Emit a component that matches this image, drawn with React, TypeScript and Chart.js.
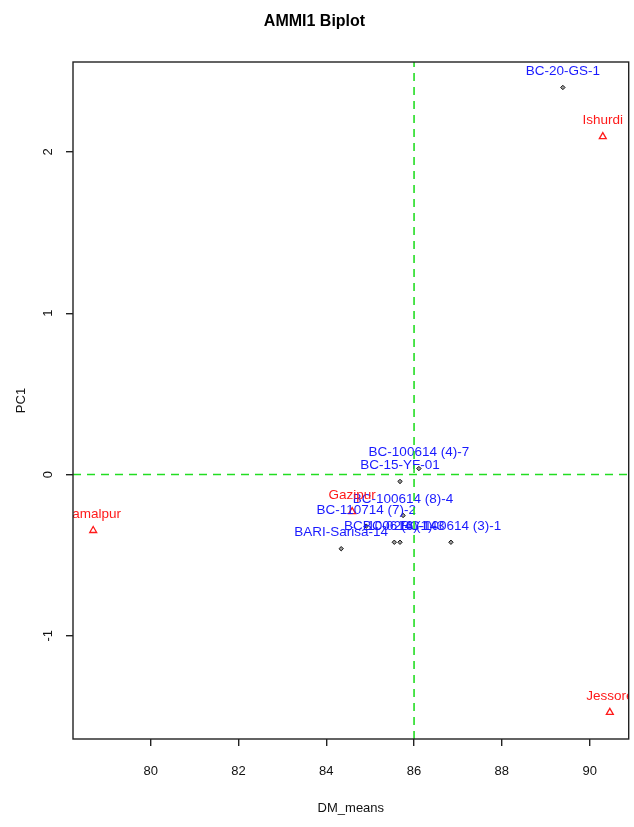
import React, { useEffect, useRef } from "react";
import { Chart, registerables } from "chart.js";

Chart.register(...registerables);

const genotypeNames = [
  "BC-20-GS-1",
  "BC-100614 (4)-7",
  "BC-15-YF-01",
  "BC-100614 (8)-4",
  "BC-110714 (7)-2",
  "BARI-Sarisa-14",
  "BC-100614 (3)-1",
  "BC-100614 (1)-3",
  "BC-02(6)-14",
];
const genotypeMeans = [89.39, 86.11, 85.68, 85.75, 84.91, 84.34, 86.84, 85.55, 85.68];
const genotypePC1 = [2.4, 0.037, -0.043, -0.254, -0.32, -0.46, -0.42, -0.42, -0.42];

const envNames = ["Ishurdi", "Jamalpur", "Jessore", "Gazipur"];
const envMeans = [90.3, 78.69, 90.46, 84.59];
const envPC1 = [2.095, -0.347, -1.475, -0.23];

const grandMean = 86;
const X_MIN = 78.23;
const X_MAX = 90.89;
const Y_MIN = -1.64;
const Y_MAX = 2.558;
const xTicks = [80, 82, 84, 86, 88, 90];
const yTicks = [-1, 0, 1, 2];

const FONT = "'Liberation Sans', Arial, sans-serif";

const labelPlugin = {
  id: "biplotLabels",
  afterDatasetsDraw(chart: any) {
    const ctx = chart.ctx;
    const area = chart.chartArea;
    ctx.save();
    ctx.beginPath();
    ctx.rect(area.left, area.top, area.right - area.left, area.bottom - area.top);
    ctx.clip();
    ctx.font = `13.5px ${FONT}`;
    ctx.textAlign = "center";
    ctx.textBaseline = "middle";
    const gMeta = chart.getDatasetMeta(0);
    gMeta.data.forEach((el: any, i: number) => {
      ctx.fillStyle = "#1a1aff";
      ctx.fillText(genotypeNames[i], el.x, el.y - 16);
    });
    const eMeta = chart.getDatasetMeta(1);
    eMeta.data.forEach((el: any, i: number) => {
      ctx.fillStyle = "#ff1a1a";
      ctx.fillText(envNames[i], el.x, el.y - 16);
    });
    // reference lines
    const xs = chart.scales.x;
    const ys = chart.scales.y;
    ctx.strokeStyle = "#22dd22";
    ctx.lineWidth = 1.6;
    ctx.setLineDash([8, 6]);
    const px = xs.getPixelForValue(grandMean);
    ctx.beginPath();
    ctx.moveTo(px, area.bottom);
    ctx.lineTo(px, area.top);
    ctx.stroke();
    const py = ys.getPixelForValue(0);
    ctx.beginPath();
    ctx.moveTo(area.left, py);
    ctx.lineTo(area.right, py);
    ctx.stroke();
    ctx.restore();

    // box
    ctx.save();
    ctx.strokeStyle = "#222";
    ctx.lineWidth = 1.4;
    ctx.strokeRect(area.left, area.top, area.right - area.left, area.bottom - area.top);
    ctx.restore();

    // y tick labels rotated (R style)
    ctx.save();
    ctx.font = `13px ${FONT}`;
    ctx.fillStyle = "#111";
    ctx.textAlign = "center";
    ctx.textBaseline = "middle";
    yTicks.forEach((t) => {
      const y = ys.getPixelForValue(t);
      ctx.save();
      ctx.translate(48, y);
      ctx.rotate(-Math.PI / 2);
      ctx.fillText(String(t), 0, 0);
      ctx.restore();
    });
    ctx.restore();
  },
};

export default function App() {
  const ref = useRef<HTMLCanvasElement | null>(null);
  useEffect(() => {
    if (!ref.current) return;
    const chart = new Chart(ref.current, {
      type: "scatter",
      data: {
        datasets: [
          {
            label: "Genotypes",
            data: genotypeMeans.map((x, i) => ({ x, y: genotypePC1[i] })),
            pointStyle: "rectRot",
            pointRadius: 2.2,
            borderColor: "#111",
            backgroundColor: "rgba(60,60,60,0.5)",
            borderWidth: 1,
          },
          {
            label: "Environments",
            data: envMeans.map((x, i) => ({ x, y: envPC1[i] })),
            pointStyle: "triangle",
            pointRadius: 4,
            borderColor: "#ff1a1a",
            backgroundColor: "rgba(0,0,0,0)",
            borderWidth: 1.3,
          },
        ],
      },
      options: {
        animation: false,
        responsive: false,
        maintainAspectRatio: false,
        layout: { padding: { left: 0, right: 5, top: 0, bottom: 0 } },
        plugins: {
          legend: { display: false },
          tooltip: { enabled: false },
          title: {
            display: true,
            text: "AMMI1 Biplot",
            color: "#000",
            font: { family: FONT, size: 16, weight: "bold" },
            padding: { top: 12, bottom: 30.8 },
          },
        },
        scales: {
          x: {
            type: "linear",
            min: X_MIN,
            max: X_MAX,
            afterBuildTicks: (scale: any) => {
              scale.ticks = xTicks.map((v) => ({ value: v }));
            },
            afterFit: (scale: any) => {
              scale.height = 88;
            },
            grid: {
              display: true,
              drawOnChartArea: false,
              drawTicks: true,
              tickLength: 7,
              color: "#222",
              lineWidth: 1.4,
            },
            border: { display: false },
            ticks: {
              color: "#111",
              font: { family: FONT, size: 13 },
              padding: 18,
              maxRotation: 0,
              autoSkip: false,
            },
            title: {
              display: true,
              text: "DM_means",
              color: "#111",
              font: { family: FONT, size: 13 },
              padding: { top: 0, bottom: 11 },
            },
          },
          y: {
            type: "linear",
            min: Y_MIN,
            max: Y_MAX,
            afterBuildTicks: (scale: any) => {
              scale.ticks = yTicks.map((v) => ({ value: v }));
            },
            afterFit: (scale: any) => {
              scale.width = 73;
            },
            grid: {
              display: true,
              drawOnChartArea: false,
              drawTicks: true,
              tickLength: 7,
              color: "#222",
              lineWidth: 1.4,
            },
            border: { display: false },
            ticks: { display: false },
            title: {
              display: true,
              text: "PC1",
              color: "#111",
              font: { family: FONT, size: 13 },
              padding: { top: 14, bottom: 0 },
            },
          },
        },
      },
      plugins: [labelPlugin],
    });
    return () => chart.destroy();
  }, []);
  return (
    <div style={{ position: "absolute", left: 0, top: 0, width: 634, height: 827 }}>
      <canvas ref={ref} width={634} height={827} style={{ display: "block", width: 634, height: 827 }} />
    </div>
  );
}
